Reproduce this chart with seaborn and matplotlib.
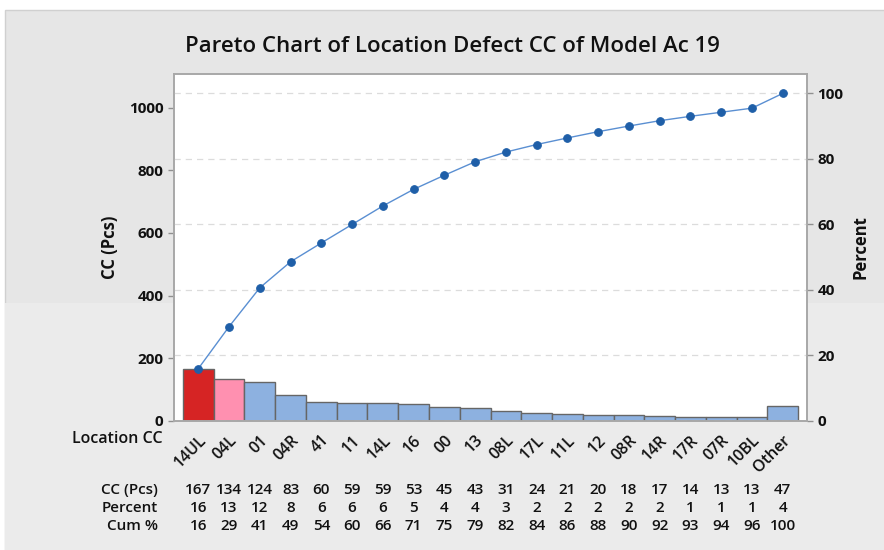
import numpy as np
import seaborn as sns
import matplotlib.pyplot as plt
from matplotlib.patches import Rectangle
import matplotlib.transforms as mtransforms

# Data
locations = ['14UL', '04L', '01', '04R', '41', '11', '14L', '16', '00', '13',
             '08L', '17L', '11L', '12', '08R', '14R', '17R', '07R', '10BL', 'Other']
counts = [167, 134, 124, 83, 60, 59, 59, 53, 45, 43, 31, 24, 21, 20, 18, 17, 14, 13, 13, 47]
percent = [16, 13, 12, 8, 6, 6, 6, 5, 4, 4, 3, 2, 2, 2, 2, 2, 1, 1, 1, 4]
cum_pct = [16, 29, 41, 49, 54, 60, 66, 71, 75, 79, 82, 84, 86, 88, 90, 92, 93, 94, 96, 100]

total = sum(counts)
cum_line = np.cumsum(counts) / total * 100

sns.set_style('white')
plt.rcParams['font.family'] = ['Open Sans', 'DejaVu Sans']
plt.rcParams['font.weight'] = 'semibold'

fig = plt.figure(figsize=(8.84, 5.5), dpi=100)
fig.patch.set_facecolor('white')
# grey panel background
fig.patches.append(Rectangle((5 / 884, 0), 1, 1 - 10 / 550, transform=fig.transFigure,
                             facecolor='#e6e6e6', edgecolor='#d0d0d0', zorder=-10))
fig.patches.append(Rectangle((5 / 884, 0), 1, 1 - 303 / 550, transform=fig.transFigure,
                             facecolor='#ebebeb', edgecolor='none', zorder=-9))

ax = fig.add_axes([174 / 884, 1 - 421 / 550, (807 - 174) / 884, (421 - 74) / 550])
ax.set_facecolor('white')

bar_colors = ['#d62424', '#ff90b0'] + ['#8db1e0'] * (len(locations) - 2)
sns.barplot(x=locations, y=counts, hue=locations, palette=bar_colors, legend=False,
            width=1.0, edgecolor='#666666', linewidth=1.0, saturation=1, ax=ax, zorder=2)

ymax = 1107
ax.set_ylim(0, ymax)
ax.set_xlim(-0.79, len(locations) - 0.21)
ax.set_yticks([0, 200, 400, 600, 800, 1000])
ax.set_ylabel('CC (Pcs)', fontsize=12, fontweight='bold', color='#111111', labelpad=7)
ax.set_xlabel('')

ax2 = ax.twinx()
ax2.set_ylim(0, ymax / total * 100)
ax2.set_yticks([0, 20, 40, 60, 80, 100])
ax2.yaxis.grid(True, linestyle=(0, (5, 4)), color='#dcdcdc', linewidth=0.9)
ax2.set_axisbelow(True)
sns.lineplot(x=np.arange(len(locations)), y=cum_line, ax=ax2, color='#5a8fd2', linewidth=1.0,
             marker='o', markersize=5.5, markerfacecolor='#1f5fa8', markeredgecolor='#1f5fa8',
             zorder=5)
ax2.set_ylabel('Percent', fontsize=12, fontweight='bold', color='#111111', labelpad=6)

for a in (ax, ax2):
    for s in a.spines.values():
        s.set_color('#a8a8a8')
        s.set_linewidth(1.2)
    a.tick_params(axis='both', length=4, width=1, color='#909090', labelsize=11, labelcolor='#111111')
    plt.setp(a.get_yticklabels(), fontweight='bold')

ax.set_xticks(np.arange(len(locations)))
ax.set_xticklabels(locations, rotation=45, ha='right', rotation_mode='anchor', fontsize=11.5)
ax.tick_params(axis='x', pad=4)

fig.suptitle('Pareto Chart of Location Defect CC of Model Ac 19', x=452 / 884, y=1 - 47 / 550,
             va='center', fontsize=16, fontweight='semibold', color='#111111')

# label for x categories
fig.text(163 / 884, 1 - 439 / 550, 'Location CC', ha='right', va='center',
         fontsize=11.5, color='#111111')

# table below the chart
trans = mtransforms.blended_transform_factory(ax.transData, fig.transFigure)
rows = [('CC (Pcs)', counts, 490), ('Percent', percent, 508), ('Cum %', cum_pct, 526)]
for name, vals, ypix in rows:
    yf = 1 - ypix / 550
    fig.text(158 / 884, yf, name, ha='right', va='center', fontsize=11, color='#111111')
    for i, v in enumerate(vals):
        ax.text(i, yf, str(v), transform=trans, ha='center', va='center',
                fontsize=11, color='#111111')

fig.savefig('out.png', dpi=100)
